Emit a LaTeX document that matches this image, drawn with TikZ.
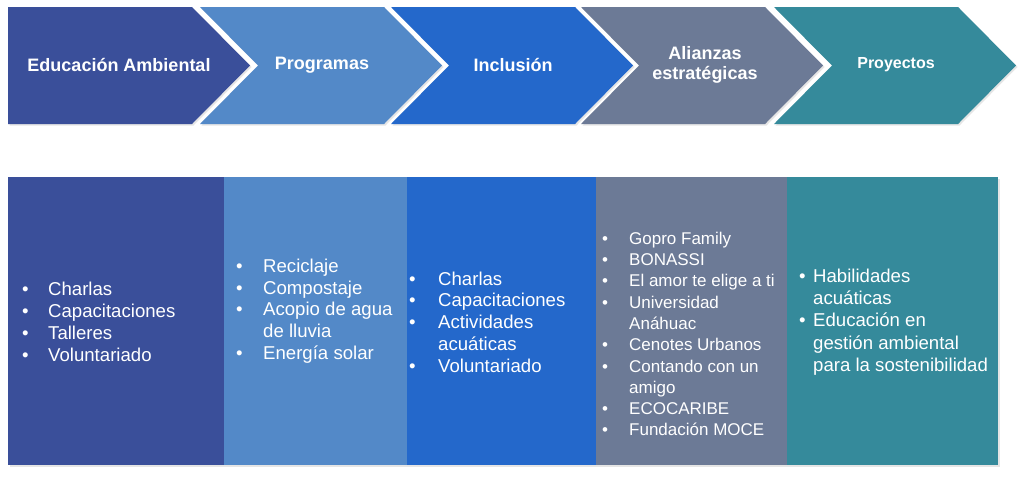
\documentclass[tikz,border=0pt]{standalone}
\usepackage{fontspec}
\setmainfont{Liberation Sans}
\setsansfont{Liberation Sans}
\usetikzlibrary{positioning, shadows}

\definecolor{eduBlue}{RGB}{58,79,154}
\definecolor{progBlue}{RGB}{83,137,200}
\definecolor{inclBlue}{RGB}{36,104,203}
\definecolor{aliaGray}{RGB}{108,122,150}
\definecolor{proyTeal}{RGB}{53,138,155}

\newcommand{\bul}[1]{\makebox[#1][l]{\textbullet}}

\begin{document}
\begin{tikzpicture}[x=1pt, y=-1pt,
      chevron/.style={drop shadow={shadow xshift=1.5pt, shadow yshift=-1.5pt, opacity=0.2}},
      head/.style={text=white, font=\bfseries\fontsize{18}{20}\selectfont, align=center},
      panel/.style={rectangle, minimum width=#1, minimum height=288pt, inner sep=0pt, anchor=north west,
        drop shadow={shadow xshift=1.5pt, shadow yshift=-1.5pt, opacity=0.2}},
      list/.style={text=white, font=\fontsize{18.6}{21.8}\selectfont, align=left, anchor=west, inner sep=0pt}
    ]
    \useasboundingbox[fill=white] (0,0) rectangle (1024,479);

    % top row of chevrons
    \foreach \l/\c/\k in {8/eduBlue/0, 200/progBlue/58, 391/inclBlue/58, 581/aliaGray/58, 774/proyTeal/58}
      \fill[\c, chevron] (\l,7) -- ++(184,0) -- ++(58,58.5) -- ++(-58,58.5) -- (\l,124) -- (\l+\k,65.5) -- cycle;

    \node[head] (h1) at (119,65) {Educación Ambiental};
    \node[head] (h2) at (322,65) {Programas};
    \node[head] (h3) at (513,65) {Inclusión};
    \node[head] (h4) at (705,65) {Alianzas\\estratégicas};
    \node[head, font=\bfseries\fontsize{16}{18}\selectfont] (h5) at (896,65) {Proyectos};

    % bottom panels
    \node[panel=216pt, fill=eduBlue] (p1) at (8,177) {};
    \node[panel=183pt, fill=progBlue] (p2) at (224,177) {};
    \node[panel=189pt, fill=inclBlue] (p3) at (407,177) {};
    \node[panel=191pt, fill=aliaGray] (p4) at (596,177) {};
    \node[panel=211pt, fill=proyTeal] (p5) at (787,177) {};

    \node[list] (l1) at (22,322) {\bul{26pt}Charlas\\\bul{26pt}Capacitaciones\\\bul{26pt}Talleres\\\bul{26pt}Voluntariado};
    \node[list] (l2) at (236,311) {\bul{27pt}Reciclaje\\\bul{27pt}Compostaje\\\bul{27pt}Acopio de agua\\\hspace*{27pt}de lluvia\\\bul{27pt}Energía solar};
    \node[list] (l3) at (409,322) {\bul{29pt}Charlas\\\bul{29pt}Capacitaciones\\\bul{29pt}Actividades\\\hspace*{29pt}acuáticas\\\bul{29pt}Voluntariado};
    \node[list, font=\fontsize{17}{21.3}\selectfont] (l4) at (602,334) {\bul{27pt}Gopro Family\\\bul{27pt}BONASSI\\\bul{27pt}El amor te elige a ti\\\bul{27pt}Universidad\\\hspace*{27pt}Anáhuac\\\bul{27pt}Cenotes Urbanos\\\bul{27pt}Contando con un\\\hspace*{27pt}amigo\\\bul{27pt}ECOCARIBE\\\bul{27pt}Fundación MOCE};
    \node[list, font=\fontsize{18.6}{22.2}\selectfont] (l5) at (799,322) {\bul{14pt}Habilidades\\\hspace*{14pt}acuáticas\\\bul{14pt}Educación en\\\hspace*{14pt}gestión ambiental\\\hspace*{14pt}para la sostenibilidad};
  \end{tikzpicture}
\end{document}
